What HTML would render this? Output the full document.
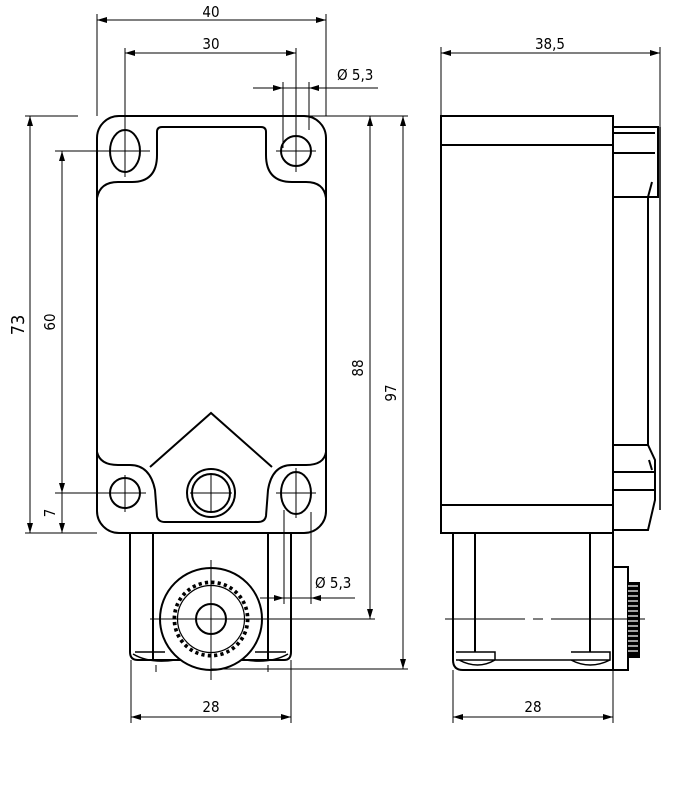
<!DOCTYPE html>
<html><head><style>body{margin:0;background:#fff}svg{display:block}text{font-family:"DejaVu Sans Condensed","DejaVu Sans","Liberation Sans",sans-serif;font-size:15px;fill:#000}</style></head>
<body>
<svg width="685" height="800" viewBox="0 0 685 800" xmlns="http://www.w3.org/2000/svg">
<defs>
<marker id="a" viewBox="0 0 10 6" refX="10" refY="3" markerWidth="10" markerHeight="6" orient="auto-start-reverse" markerUnits="userSpaceOnUse"><path d="M0,0L10,3L0,6z" fill="#000"/></marker>
</defs>
<g fill="none" stroke="#000" stroke-width="2">
<rect x="97" y="116" width="229" height="417" rx="22"/>
<path d="M97,198 Q100,182 118,182 L132,182 Q157,182 157,155 L157,132 Q157,127 162,127 L261,127 Q266,127 266,132 L266,155 Q266,182 292,182 L306,182 Q324,182 326,198"/>
<path d="M97,452 Q100,465 118,465 L130,465 Q150,465 155,490 L157,516 Q158,522 165,522 L258,522 Q265,522 266,516 L268,490 Q272,465 292,465 L306,465 Q324,465 326,452"/>
<path d="M150,467 L211,413 L272,467"/>
<ellipse cx="125" cy="151" rx="15" ry="21"/>
<circle cx="296" cy="151" r="15"/>
<circle cx="125" cy="493" r="15"/>
<ellipse cx="296" cy="493" rx="15" ry="21"/>
<circle cx="211" cy="493" r="24"/>
<circle cx="211" cy="493" r="19"/>
<path d="M130,533 L130,652 Q130,660 138,660 L284,660 Q291,660 291,652 L291,533"/>
<line x1="153" y1="533" x2="153" y2="660"/>
<line x1="268" y1="533" x2="268" y2="660"/>
<path d="M135,652 L165,652 M133,654 Q150,664 175,660" stroke-width="1.5"/>
<path d="M286,652 L255,652 M288,654 Q270,664 246,660" stroke-width="1.5"/>
<circle cx="211" cy="619" r="51" fill="#fff"/>
<circle cx="211" cy="619" r="15"/>
</g>
<circle cx="211" cy="619" r="36.5" fill="none" stroke="#000" stroke-width="4" stroke-dasharray="3.18 3.19"/>
<circle cx="211" cy="619" r="34" fill="none" stroke="#fff" stroke-width="1.5"/>
<circle cx="211" cy="619" r="33.5" fill="none" stroke="#000" stroke-width="1.2"/>
<g stroke="#000" stroke-width="1" fill="none">
<path d="M125,125V177M100,151H150M296,130V172M276,151H316M125,475V512M104,493H146M296,468V518M276,493H316M211,475V512M190,493H232M211,560V680M150,619H265M156,665V672M268,665V672"/>
<path d="M97,14V116M326,14V116M125,48V145M296,48V145M283,82V148M309,82V130M253,88H378"/>
<path d="M25,116H78M25,533H97M55,151H125M55,493H125"/>
<path d="M296,116H408M265,619H375M211,669H408"/>
<path d="M284,510V604M311,512V604M260,598H355"/>
<path d="M131,660V723M291,660V723"/>
<path d="M441,47V116M660,47V127M453,670V723M613,670V723"/>
</g>
<g stroke="#000" stroke-width="1">
<line x1="97" y1="20" x2="326" y2="20" marker-start="url(#a)" marker-end="url(#a)"/>
<line x1="125" y1="53" x2="296" y2="53" marker-start="url(#a)" marker-end="url(#a)"/>
<line x1="30" y1="116" x2="30" y2="533" marker-start="url(#a)" marker-end="url(#a)"/>
<line x1="62" y1="151" x2="62" y2="493" marker-start="url(#a)" marker-end="url(#a)"/>
<line x1="62" y1="493" x2="62" y2="533" marker-end="url(#a)"/>
<line x1="370" y1="116" x2="370" y2="619" marker-start="url(#a)" marker-end="url(#a)"/>
<line x1="403" y1="116" x2="403" y2="669" marker-start="url(#a)" marker-end="url(#a)"/>
<line x1="131" y1="717" x2="291" y2="717" marker-start="url(#a)" marker-end="url(#a)"/>
<line x1="441" y1="53" x2="660" y2="53" marker-start="url(#a)" marker-end="url(#a)"/>
<line x1="453" y1="717" x2="613" y2="717" marker-start="url(#a)" marker-end="url(#a)"/>
<line x1="265" y1="88" x2="283" y2="88" marker-end="url(#a)"/>
<line x1="330" y1="88" x2="309" y2="88" marker-end="url(#a)"/>
<line x1="266" y1="598" x2="284" y2="598" marker-end="url(#a)"/>
<line x1="330" y1="598" x2="311" y2="598" marker-end="url(#a)"/>
</g>
<g fill="none" stroke="#000" stroke-width="2">
<rect x="441" y="116" width="172" height="417"/>
<line x1="441" y1="145" x2="613" y2="145"/>
<line x1="441" y1="505" x2="613" y2="505"/>
<path d="M613,127H658V197H613M613,133H655M613,153H655M652,182L648,197V445M649,460L652,470M613,445H648L655,460V500L648,530H613M613,472H655M613,490H655"/>
<line x1="660" y1="127" x2="660" y2="510" stroke-width="1.5"/>
<path d="M453,533V660Q453,670 463,670H613V533"/>
<line x1="475" y1="533" x2="475" y2="652"/>
<line x1="590" y1="533" x2="590" y2="652"/>
<path d="M456,652H495V660H456M459,660Q478,670 495,660M571,652H610V660H571M571,660Q590,670 610,660M495,660H571" stroke-width="1.5"/>
<path d="M613,567H628V670H613"/>
</g>
<path d="M628,582H640V658H628Z" fill="#000"/>
<g stroke="#fff" stroke-width="1.2"><path d="M628,586H638M628,591H638M628,596H638M628,601H638M628,606H638M628,611H638M628,616H638M628,621H638M628,626H638M628,631H638M628,636H638M628,641H638M628,646H638M628,651H638"/></g>
<line x1="445" y1="619" x2="645" y2="619" stroke="#000" stroke-width="1" stroke-dasharray="80,8,10,8"/>
<text x="211" y="17" text-anchor="middle">40</text>
<text x="211" y="49" text-anchor="middle">30</text>
<text x="337" y="80">Ø 5,3</text>
<text x="315" y="588">Ø 5,3</text>
<text x="211" y="712" text-anchor="middle">28</text>
<text x="533" y="712" text-anchor="middle">28</text>
<text x="550" y="49" text-anchor="middle">38,5</text>
<text transform="translate(24,325) rotate(-90)" text-anchor="middle" style="font-size:18px">73</text>
<text transform="translate(55,322) rotate(-90)" text-anchor="middle">60</text>
<text transform="translate(55,513) rotate(-90)" text-anchor="middle">7</text>
<text transform="translate(363,368) rotate(-90)" text-anchor="middle">88</text>
<text transform="translate(396,393) rotate(-90)" text-anchor="middle">97</text>
</svg>
</body></html>
